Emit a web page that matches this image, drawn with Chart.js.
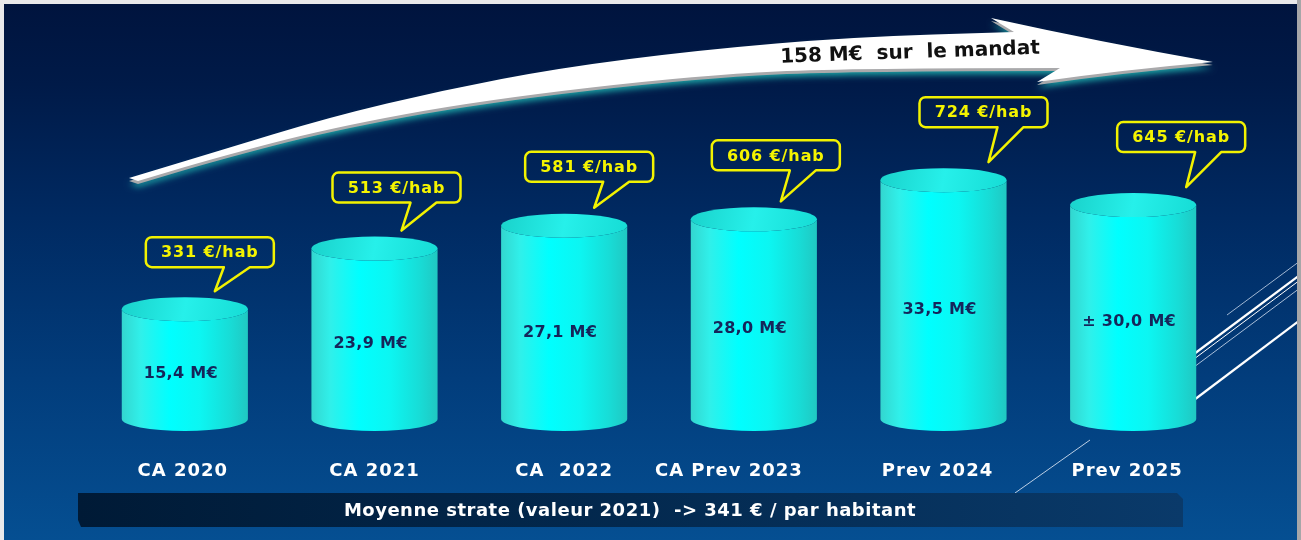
<!DOCTYPE html>
<html>
<head>
<meta charset="utf-8">
<script src="https://cdn.jsdelivr.net/npm/chart.js@4/dist/chart.umd.min.js"></script>
<style>
  html, body { margin: 0; padding: 0; background: #e9e9eb; }
  #wrap { width: 1301px; height: 540px; position: relative; }
</style>
</head>
<body>
<div id="wrap"><canvas id="c"></canvas></div>
<script>
// ---------- data ----------
const categories = ['CA 2020', 'CA 2021', 'CA  2022', 'CA Prev 2023', 'Prev 2024', 'Prev 2025'];
const amountsMEur = [15.4, 23.9, 27.1, 28.0, 33.5, 30.0];
const amountLabels = ['15,4 M€', '23,9 M€', '27,1 M€', '28,0 M€', '33,5 M€', '± 30,0 M€'];
const perInhabitant = [331, 513, 581, 606, 724, 645];
const perInhabitantLabels = perInhabitant.map(v => v + ' €/hab');
const totalLabel = '158 M€  sur  le mandat';
const footnote = 'Moyenne strate (valeur 2021)  -> 341 € / par habitant';

const FONT = '"DejaVu Sans", "Liberation Sans", sans-serif';

function smoothPath(ctx, pts, moveFirst) {
  if (moveFirst) ctx.moveTo(pts[0][0], pts[0][1]); else ctx.lineTo(pts[0][0], pts[0][1]);
  for (let i = 1; i < pts.length - 1; i++) {
    const mx = (pts[i][0] + pts[i + 1][0]) / 2, my = (pts[i][1] + pts[i + 1][1]) / 2;
    ctx.quadraticCurveTo(pts[i][0], pts[i][1], mx, my);
  }
  const l = pts[pts.length - 1];
  ctx.lineTo(l[0], l[1]);
}

function arrowPath(ctx, dx, dy) {
  const top = [[129,178],[215,152],[330,117],[444,90],[559,68],[700,50],[853,37],[1014,32]];
  const bot = [[1060,68],[853,68],[700,75],[483,100],[330,128],[215,158],[138,181]];
  ctx.beginPath();
  ctx.save();
  ctx.translate(dx, dy);
  smoothPath(ctx, top, true);
  ctx.lineTo(991, 18);
  ctx.quadraticCurveTo(1100, 42, 1213, 62);
  ctx.quadraticCurveTo(1120, 70, 1037, 82);
  ctx.lineTo(1060, 68);
  smoothPath(ctx, bot, false);
  ctx.closePath();
  ctx.restore();
}

function setSpacing(ctx, px) { if ('letterSpacing' in ctx) ctx.letterSpacing = px + 'px'; }

const slidePlugin = {
  id: 'slide',
  beforeDraw(chart) {
    const ctx = chart.ctx;
    ctx.save();
    ctx.fillStyle = '#e9e9eb';
    ctx.fillRect(0, 0, 1301, 540);
    const g = ctx.createLinearGradient(0, 4, 0, 540);
    g.addColorStop(0, '#00143e');
    g.addColorStop(0.15, '#001a48');
    g.addColorStop(0.4, '#002a62');
    g.addColorStop(0.7, '#023d7c');
    g.addColorStop(1, '#054f92');
    ctx.fillStyle = g;
    ctx.fillRect(4, 4, 1293, 536);
    ctx.fillStyle = '#a6a6a8';
    ctx.fillRect(1297, 0, 4, 540);

    ctx.beginPath();
    ctx.rect(4, 4, 1293, 536);
    ctx.clip();
    const lines = [
      [1227,315,1300,261,1,'rgba(200,215,235,0.8)'],
      [1190,357,1300,275,2.2,'#ffffff'],
      [1190,362,1300,280,1,'#ffffff'],
      [1190,370,1300,288,1,'rgba(200,215,235,0.85)'],
      [1190,403,1300,320,2.2,'#ffffff'],
      [1015,493,1090,440,1,'rgba(220,230,245,0.85)']
    ];
    lines.forEach(l => {
      ctx.beginPath();
      ctx.moveTo(l[0], l[1]); ctx.lineTo(l[2], l[3]);
      ctx.lineWidth = l[4]; ctx.strokeStyle = l[5]; ctx.stroke();
    });

    ctx.save();
    ctx.shadowColor = 'rgba(30,170,170,0.95)';
    ctx.shadowBlur = 6;
    ctx.shadowOffsetY = 3;
    arrowPath(ctx, 0, 3);
    ctx.fillStyle = '#a9a9ab';
    ctx.fill();
    ctx.restore();
    arrowPath(ctx, 0, 0);
    ctx.fillStyle = '#ffffff';
    ctx.fill();

    ctx.save();
    ctx.translate(910, 53);
    ctx.rotate(-0.035);
    ctx.font = 'bold 20px ' + FONT;
    ctx.fillStyle = '#111111';
    ctx.textAlign = 'center';
    ctx.textBaseline = 'middle';
    ctx.fillText(totalLabel, 0, 0);
    ctx.restore();

    const bg = ctx.createLinearGradient(78, 0, 1183, 0);
    bg.addColorStop(0, '#001a36');
    bg.addColorStop(0.5, '#03294f');
    bg.addColorStop(1, '#0a3a6a');
    ctx.beginPath();
    ctx.moveTo(78, 493);
    ctx.lineTo(1177, 493);
    ctx.lineTo(1183, 499);
    ctx.lineTo(1183, 527);
    ctx.lineTo(81, 527);
    ctx.lineTo(78, 520);
    ctx.closePath();
    ctx.fillStyle = bg;
    ctx.fill();
    ctx.font = 'bold 18px ' + FONT;
    setSpacing(ctx, 0.5);
    ctx.fillStyle = '#ffffff';
    ctx.textAlign = 'center';
    ctx.textBaseline = 'middle';
    ctx.fillText(footnote, 630, 511);
    ctx.restore();
  },
  afterDatasetsDraw(chart, args, opts) {
    const ctx = chart.ctx;
    const meta = chart.getDatasetMeta(0);
    const xScale = chart.scales.x;
    ctx.save();
    meta.data.forEach((bar, i) => {
      const cx = bar.x, topY = bar.y, baseY = bar.base, w = bar.width;
      const rx = w / 2, ry = 12;
      const gb = ctx.createLinearGradient(cx - rx, 0, cx + rx, 0);
      gb.addColorStop(0, '#33d6cf');
      gb.addColorStop(0.15, '#30f0ea');
      gb.addColorStop(0.38, '#00ffff');
      gb.addColorStop(0.62, '#0cf6f2');
      gb.addColorStop(0.86, '#18dcd6');
      gb.addColorStop(1, '#20c8c2');
      ctx.beginPath();
      ctx.moveTo(cx - rx, topY);
      ctx.lineTo(cx - rx, baseY);
      ctx.ellipse(cx, baseY, rx, ry, 0, Math.PI, 0, true);
      ctx.lineTo(cx + rx, topY);
      ctx.ellipse(cx, topY, rx, ry, 0, 0, Math.PI, false);
      ctx.closePath();
      ctx.fillStyle = gb;
      ctx.fill();
      const gt = ctx.createLinearGradient(cx - rx, topY - ry, cx + rx, topY + ry);
      gt.addColorStop(0, '#1ad2cb');
      gt.addColorStop(0.5, '#26f0ea');
      gt.addColorStop(1, '#16dcd5');
      ctx.beginPath();
      ctx.ellipse(cx, topY, rx, ry, 0, 0, Math.PI * 2);
      ctx.fillStyle = gt;
      ctx.fill();

      ctx.textAlign = 'center';
      ctx.textBaseline = 'middle';
      ctx.font = 'bold 16px ' + FONT;
      setSpacing(ctx, 0.3);
      ctx.fillStyle = '#15255a';
      ctx.fillText(amountLabels[i], cx - 4, (topY + baseY) / 2 + 10);

      // callout
      const bw = 128, bh = 30, r = 6;
      const bcx = cx + opts.calloutDx[i], bBot = topY + opts.calloutDy[i], bTop = bBot - bh;
      const bL = bcx - bw / 2, bR = bcx + bw / 2;
      const pL = bcx + 14, pR = bcx + 40, tipX = bcx + 5, tipY = topY - 18;
      ctx.beginPath();
      ctx.moveTo(bL + r, bTop);
      ctx.lineTo(bR - r, bTop);
      ctx.arcTo(bR, bTop, bR, bTop + r, r);
      ctx.lineTo(bR, bBot - r);
      ctx.arcTo(bR, bBot, bR - r, bBot, r);
      ctx.lineTo(pR, bBot);
      ctx.lineTo(tipX, tipY);
      ctx.lineTo(pL, bBot);
      ctx.lineTo(bL + r, bBot);
      ctx.arcTo(bL, bBot, bL, bBot - r, r);
      ctx.lineTo(bL, bTop + r);
      ctx.arcTo(bL, bTop, bL + r, bTop, r);
      ctx.closePath();
      ctx.lineWidth = 2.5;
      ctx.lineJoin = 'round';
      ctx.strokeStyle = '#f2f200';
      ctx.stroke();
      ctx.font = 'bold 16px ' + FONT;
      setSpacing(ctx, 0.9);
      ctx.fillStyle = '#f4f400';
      ctx.fillText(perInhabitantLabels[i], bcx, bTop + bh / 2 + 1);

      ctx.font = 'bold 18px ' + FONT;
      setSpacing(ctx, 1);
      ctx.fillStyle = '#ffffff';
      ctx.fillText(chart.data.labels[i], xScale.getPixelForValue(i) + opts.labelDx[i], 471);
      setSpacing(ctx, 0);
    });
    ctx.restore();
  }
};

new Chart(document.getElementById('c'), {
  type: 'bar',
  data: {
    labels: categories,
    datasets: [{
      data: amountsMEur,
      backgroundColor: 'rgba(0,0,0,0)',
      borderWidth: 0,
      categoryPercentage: 1,
      barPercentage: 0.665
    }]
  },
  options: {
    responsive: true,
    maintainAspectRatio: false,
    animation: false,
    layout: { padding: { left: 90, right: 73, top: 62.5, bottom: 121 } },
    scales: {
      x: { display: false },
      y: { display: false, min: 0, max: 50 }
    },
    plugins: {
      legend: { display: false },
      tooltip: { enabled: false },
      slide: {
        calloutDx: [25, 22, 25, 22, 40, 48],
        calloutDy: [-42, -46, -44, -49, -53, -53],
        labelDx: [-2, 0, 0, -25, -6, -6]
      }
    }
  },
  plugins: [slidePlugin]
});
</script>
</body>
</html>
